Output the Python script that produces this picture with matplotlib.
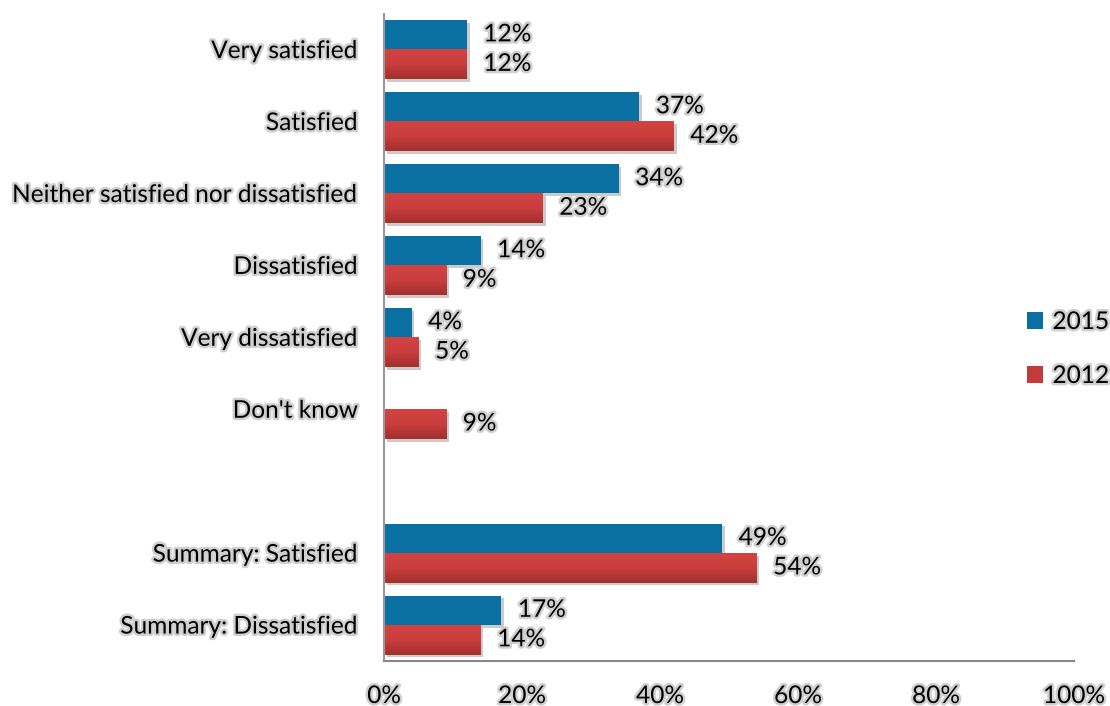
import numpy as np
import matplotlib
matplotlib.use("Agg")
import matplotlib.pyplot as plt
import matplotlib.patheffects as pe
from matplotlib.patches import Patch
from matplotlib.colors import LinearSegmentedColormap

plt.rcParams['font.family'] = ['Lato', 'DejaVu Sans']

categories = ["Very satisfied", "Satisfied", "Neither satisfied nor dissatisfied",
              "Dissatisfied", "Very dissatisfied", "Don't know", "",
              "Summary: Satisfied", "Summary: Dissatisfied"]
vals_2015 = [12, 37, 34, 14, 4, None, None, 49, 17]
vals_2012 = [12, 42, 23, 9, 5, 9, None, 54, 14]
xticks = [0, 20, 40, 60, 80, 100]

blue = "#0A70A2"
red = "#C23A3A"
red_grad = LinearSegmentedColormap.from_list("rg", ["#D44343", "#C93D3D", "#A32F2F"])
glow = [pe.withStroke(linewidth=3.5, foreground="#cfcfcf")]
shadow = [pe.SimplePatchShadow(offset=(2, -2), shadow_rgbFace="#999999", alpha=0.5), pe.Normal()]
FS = 17.6

fig = plt.figure(figsize=(11.1, 7.06), dpi=100)
ax = fig.add_axes([0.346, 0.0637, 0.6215, 0.917])

y = np.arange(len(categories))
h = 0.41
grad = np.linspace(0, 1, 50).reshape(-1, 1)
for i in range(len(categories)):
    if vals_2015[i] is not None:
        ax.barh(y[i] - h / 2, vals_2015[i], height=h, color=blue, path_effects=shadow)
        ax.text(vals_2015[i] + 2.4, y[i] - h / 2, f"{vals_2015[i]}%", va="center", ha="left",
                fontsize=FS, color="black", path_effects=glow)
    if vals_2012[i] is not None:
        ax.barh(y[i] + h / 2, vals_2012[i], height=h, color=red, path_effects=shadow)
        # vertical gradient over the red bar
        ax.imshow(grad, cmap=red_grad, aspect="auto", zorder=2.5,
                  extent=(0, vals_2012[i], y[i] + h, y[i]), origin="upper")
        ax.text(vals_2012[i] + 2.4, y[i] + h / 2, f"{vals_2012[i]}%", va="center", ha="left",
                fontsize=FS, color="black", path_effects=glow)

ax.set_ylim(len(categories) - 0.5, -0.5)
ax.set_xlim(0, 100)
ax.set_yticks(y)
ax.set_yticklabels(categories, fontsize=FS)
for t in ax.get_yticklabels():
    t.set_path_effects(glow)
ax.set_xticks(xticks)
ax.set_xticklabels([f"{v}%" for v in xticks], fontsize=FS)
for t in ax.get_xticklabels():
    t.set_path_effects(glow)
ax.tick_params(axis="both", length=0)
ax.tick_params(axis="y", pad=19)
ax.tick_params(axis="x", pad=18)
for s in ["top", "right"]:
    ax.spines[s].set_visible(False)
ax.spines["left"].set_color("#999999")
ax.spines["bottom"].set_color("#888888")
ax.spines["left"].set_linewidth(1.5)
ax.spines["bottom"].set_linewidth(1.5)

handles = [Patch(facecolor=blue, label="2015"), Patch(facecolor=red, label="2012")]
leg = fig.legend(handles=handles, loc="center left", bbox_to_anchor=(0.925, 0.505),
                 frameon=False, fontsize=FS, handlelength=0.65, handleheight=0.65,
                 labelspacing=1.35, handletextpad=0.4, borderaxespad=0, borderpad=0)
for t in leg.get_texts():
    t.set_path_effects(glow)

plt.savefig("out.png", dpi=100)
